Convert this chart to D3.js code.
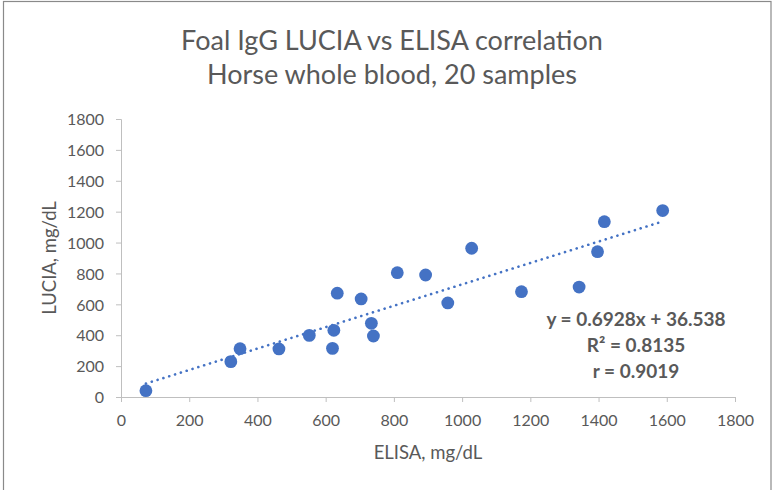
<!DOCTYPE html>
<html>
<head>
<meta charset="utf-8">
<script src="https://cdn.jsdelivr.net/npm/d3@7"></script>
<style>
  body { margin: 0; background: #fff; }
  text { font-family: Lato, "Open Sans", sans-serif; fill: #595959; }
</style>
</head>
<body>
<div class="chart"></div>
<script>
var svgWidth = 773;
var svgHeight = 490;

var margin = { top: 119, right: 38, bottom: 93, left: 121 };
var width = svgWidth - margin.left - margin.right;
var height = svgHeight - margin.top - margin.bottom;

// data
var elisa = [73, 322, 349, 463, 552, 620, 624, 634, 704, 734, 740,
  810, 893, 958, 1028, 1174, 1343, 1397, 1417, 1588];
var lucia = [41, 229, 313, 311, 399, 315, 432, 672, 635, 477, 395,
  805, 790, 609, 963, 682, 712, 941, 1135, 1207];
var xTicks = [0, 200, 400, 600, 800, 1000, 1200, 1400, 1600, 1800];
var yTicks = [0, 200, 400, 600, 800, 1000, 1200, 1400, 1600, 1800];
var slope = 0.6928;
var intercept = 36.538;
var statLines = ["y = 0.6928x + 36.538", "R² = 0.8135", "r = 0.9019"];

var points = elisa.map((x, i) => ({ x: x, y: lucia[i] }));

var svg = d3.select(".chart")
  .append("svg")
  .attr("width", svgWidth)
  .attr("height", svgHeight);

// outer frame
svg.append("rect")
  .attr("x", 3.5)
  .attr("y", 1.5)
  .attr("width", 767.5)
  .attr("height", 500)
  .attr("fill", "none")
  .attr("stroke", "#8a8a8a")
  .attr("stroke-width", 1.2);

var chartGroup = svg.append("g")
  .attr("transform", `translate(${margin.left}, ${margin.top})`);

var xScale = d3.scaleLinear().domain([0, 1800]).range([0, width]);
var yScale = d3.scaleLinear().domain([0, 1800]).range([height, 0]);

var bottomAxis = d3.axisBottom(xScale).tickValues(xTicks)
  .tickFormat(d3.format("d")).tickSize(5).tickPadding(8);
var leftAxis = d3.axisLeft(yScale).tickValues(yTicks)
  .tickFormat(d3.format("d")).tickSize(5).tickPadding(12);

var xAxis = chartGroup.append("g")
  .attr("transform", `translate(0, ${height})`)
  .call(bottomAxis);
var yAxis = chartGroup.append("g")
  .call(leftAxis);

[xAxis, yAxis].forEach(function(ax) {
  ax.select(".domain").attr("stroke", "#bfbfbf");
  ax.selectAll(".tick line").attr("stroke", "#bfbfbf");
  ax.selectAll(".tick text")
    .attr("fill", "#595959")
    .style("font-size", "16px")
    .style("font-family", "Lato, sans-serif");
});
xAxis.selectAll(".tick text").attr("dy", "1em");
yAxis.selectAll(".tick text").attr("dy", "0.36em");

// trendline (dotted)
var xMin = d3.min(elisa), xMax = d3.max(elisa);
chartGroup.append("line")
  .attr("x1", xScale(xMin))
  .attr("y1", yScale(slope * xMin + intercept))
  .attr("x2", xScale(xMax))
  .attr("y2", yScale(slope * xMax + intercept))
  .attr("stroke", "#4472c4")
  .attr("stroke-width", 2.6)
  .attr("stroke-linecap", "round")
  .attr("stroke-dasharray", "0.1 6");

// points
chartGroup.selectAll("circle")
  .data(points)
  .enter()
  .append("circle")
  .attr("cx", d => xScale(d.x))
  .attr("cy", d => yScale(d.y))
  .attr("r", 6.4)
  .attr("fill", "#4472c4");

// title
var title = svg.append("text")
  .attr("x", 392)
  .attr("text-anchor", "middle")
  .style("font-size", "27px");
title.append("tspan").attr("x", 392).attr("y", 50).text("Foal IgG LUCIA vs ELISA correlation");
title.append("tspan").attr("x", 392).attr("y", 84).text("Horse whole blood, 20 samples");

// axis titles
chartGroup.append("text")
  .attr("x", width / 2)
  .attr("y", height + 62)
  .attr("text-anchor", "middle")
  .style("font-size", "18.5px")
  .text("ELISA, mg/dL");

chartGroup.append("text")
  .attr("transform", "rotate(-90)")
  .attr("x", 0 - height / 2)
  .attr("y", 0 - 65)
  .attr("text-anchor", "middle")
  .style("font-size", "18.5px")
  .text("LUCIA, mg/dL");

// regression stats
chartGroup.selectAll(".stat")
  .data(statLines)
  .enter()
  .append("text")
  .classed("stat", true)
  .attr("x", 636 - margin.left)
  .attr("y", (d, i) => 326 - margin.top + i * 26)
  .attr("text-anchor", "middle")
  .style("font-size", "19px")
  .style("font-weight", "bold")
  .text(d => d);
</script>
</body>
</html>
